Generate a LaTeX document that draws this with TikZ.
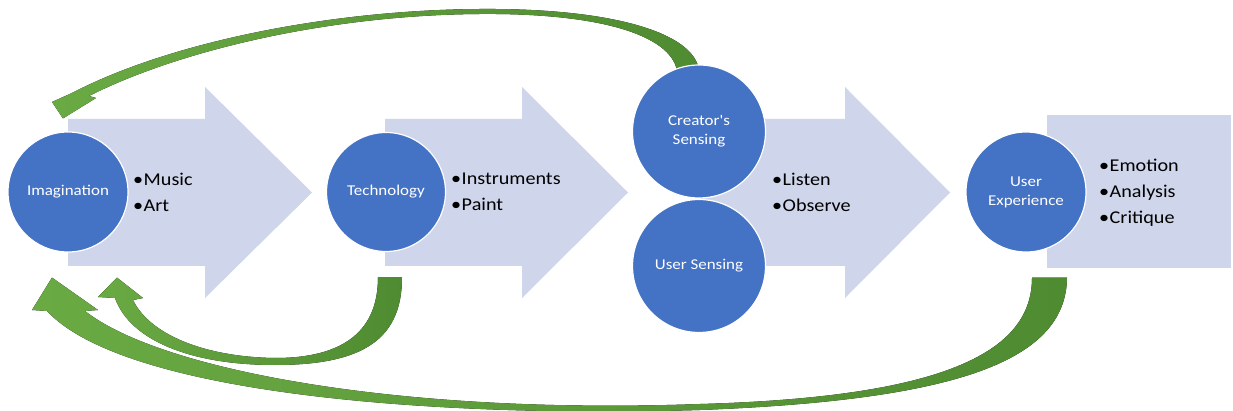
\documentclass[tikz,border=0pt]{standalone}
\usepackage{fontspec}
\setmainfont{Carlito}
\newfontfamily\lblfont[FakeStretch=1.13]{Carlito}
\newfontfamily\bulfont[FakeStretch=1.12]{Carlito}
\usetikzlibrary{calc}
\definecolor{circ}{HTML}{4472C4}
\definecolor{lav}{HTML}{CFD5EA}
\definecolor{gL}{HTML}{6AAA43}
\definecolor{gD}{HTML}{4F8B31}
\begin{document}
\begin{tikzpicture}[x=1pt,y=-1pt,
  blk/.style={fill=lav,draw=none},
  circnode/.style={circle,fill=circ,draw=white,line width=1.2pt,inner sep=0pt,
    text=white,align=center,font=\lblfont\fontsize{15}{19}\selectfont},
  bullets/.style={anchor=west,align=left,inner sep=0pt,
    font=\bulfont\fontsize{18}{26}\selectfont},
  fb/.style={left color=gL,right color=gD,draw=none}]
\useasboundingbox[fill=white] (0,0) rectangle (1233,411);

% block arrows
\fill[blk] (68,119) -- (205,119) -- (205,87) -- (312,192.5) -- (205,298) -- (205,266) -- (68,266) -- cycle;
\fill[blk] (385,119) -- (522,119) -- (522,87) -- (628,192.5) -- (522,298) -- (522,266) -- (385,266) -- cycle;
\fill[blk] (700,119) -- (845,119) -- (845,87) -- (950,192.5) -- (845,298) -- (845,266) -- (700,266) -- cycle;
\fill[blk] (1047,115) rectangle (1231,268);

% circle positions (drawn later on top)
\path (68,192) node[circnode,minimum size=120pt,fill=none,draw=none] (im) {}
      (386,192) node[circnode,minimum size=119pt,fill=none,draw=none] (tech) {}
      (699,131.5) node[circnode,minimum size=133pt,fill=none,draw=none] (cs) {}
      (699,266) node[circnode,minimum size=133pt,fill=none,draw=none] (us) {}
      (1026,192) node[circnode,minimum size=120pt,fill=none,draw=none] (ux) {};

% connector end points
\coordinate (aO) at ($(cs.north)+(0,6)$);
\coordinate (aI) at ($(cs.north)+(-22,6)$);
\coordinate (aT) at ($(im.north)+(-5,-13)$);
\coordinate (bO) at ($(tech.south)+(16,25)$);
\coordinate (bI) at ($(tech.south)+(-8,25)$);
\coordinate (bT) at ($(im.south)+(49,25)$);
\coordinate (cO) at ($(ux.south)+(41,25)$);
\coordinate (cI) at ($(ux.south)+(6,25)$);
\coordinate (cT) at ($(im.south)+(-16,25)$);

% green curved arrows
\fill[fb] (aO) .. controls (694,32) and (610,8) .. (480,9)
  .. controls (330,10) and (170,42) .. (72,93) -- (52,102) -- (aT) -- (96,98) -- (89,96)
  .. controls (180,50) and (330,15) .. (480,14)
  .. controls (600,13) and (670,35) .. (aI) -- cycle;

\fill[fb] (bO) .. controls (402,338) and (365,365) .. (275,365)
  .. controls (190,365) and (130,340) .. (115,298) -- (98,297) -- (bT) -- (143,298) -- (133,300)
  .. controls (150,335) and (205,357) .. (275,358)
  .. controls (345,358) and (378,330) .. (bI) -- cycle;

\fill[fb] (cO) .. controls (1066,360) and (960,400) .. (700,410)
  .. controls (440,418) and (125,395) .. (47,311) -- (32,310) -- (cT) -- (98,310) -- (85,311)
  .. controls (160,370) and (400,415) .. (700,404)
  .. controls (950,397) and (1032,350) .. (cI) -- cycle;

% circles
\node[circnode,minimum size=120pt] at (im) {Imagination};
\node[circnode,minimum size=119pt] at (tech) {Technology};
\node[circnode,minimum size=133pt] at (cs) {Creator's\\Sensing};
\node[circnode,minimum size=133pt] at (us) {User Sensing};
\node[circnode,minimum size=120pt] at (ux) {User\\Experience};

% bullet lists
\node[bullets] (l1) at (133,192) {•\kern0.5pt Music\\•\kern0.5pt Art};
\node[bullets] (l2) at (451,192) {•\kern0.5pt Instruments\\•\kern0.5pt Paint};
\node[bullets] (l3) at (772,192) {•\kern0.5pt Listen\\•\kern0.5pt Observe};
\node[bullets] (l4) at (1099,193) {•\kern0.5pt Emotion\\•\kern0.5pt Analysis\\•\kern0.5pt Critique};
\end{tikzpicture}
\end{document}
